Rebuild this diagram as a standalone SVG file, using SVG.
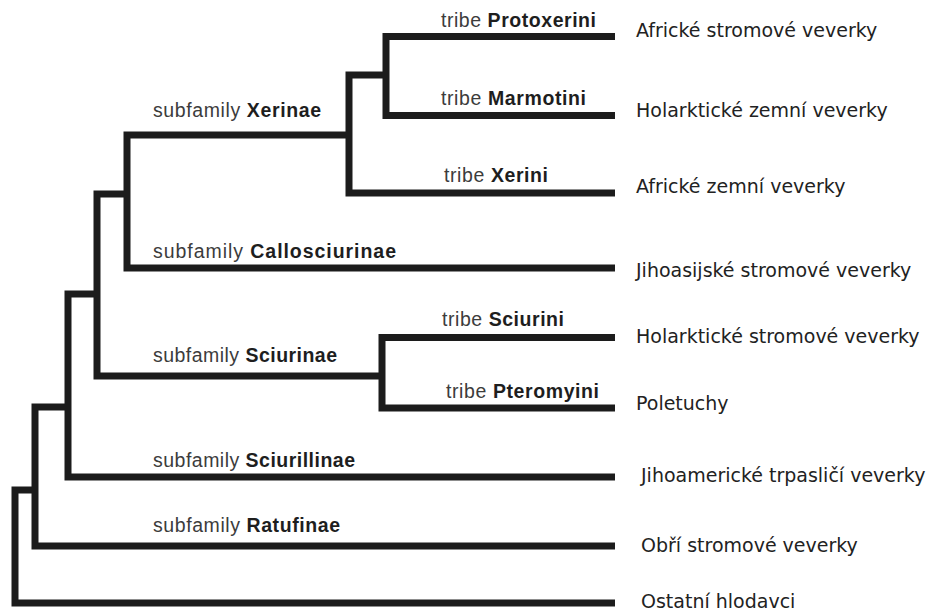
<svg xmlns="http://www.w3.org/2000/svg" width="936" height="611" viewBox="0 0 936 611">
  <style>
    .edge { fill: none; stroke: #1c1c1c; stroke-width: 7; stroke-linejoin: miter; stroke-linecap: butt; }
    .lab { font-family: "Liberation Sans", Arial, sans-serif; font-size: 19.5px; fill: #3c3c3c; }
    .lab .b { font-weight: bold; fill: #1e1e1e; }
    .leaf { font-family: "DejaVu Sans", "Noto Sans", sans-serif; font-size: 19px; fill: #222; }
  </style>
  <rect width="936" height="611" fill="#fff"/>
  <g id="connectors">
    <path class="edge" d="M615,603 H15 V490 H35"/>
    <path class="edge" d="M615,546 H35 V407 H68"/>
    <path class="edge" d="M615,477 H68 V294 H97"/>
    <path class="edge" d="M127,194 H97 V376 H382"/>
    <path class="edge" d="M615,268 H127 V135 H349"/>
    <path class="edge" d="M615,193 H349 V75 H386"/>
    <path class="edge" d="M615,36.5 H386 V115.5 H615"/>
    <path class="edge" d="M615,337.5 H382 V408 H615"/>
  </g>
  <g id="xerinae"><text class="lab" x="153" y="117" textLength="168">subfamily <tspan class="b">Xerinae</tspan></text></g>
  <g id="callosciurinae"><text class="lab" x="153" y="258" textLength="243">subfamily <tspan class="b">Callosciurinae</tspan></text></g>
  <g id="sciurinae"><text class="lab" x="153" y="362" textLength="184">subfamily <tspan class="b">Sciurinae</tspan></text></g>
  <g id="sciurillinae"><text class="lab" x="153" y="467" textLength="202">subfamily <tspan class="b">Sciurillinae</tspan></text></g>
  <g id="ratufinae"><text class="lab" x="153" y="532" textLength="187">subfamily <tspan class="b">Ratufinae</tspan></text></g>
  <g id="protoxerini"><text class="lab" x="441" y="27" textLength="155">tribe <tspan class="b">Protoxerini</tspan></text></g>
  <g id="marmotini"><text class="lab" x="441" y="105" textLength="145">tribe <tspan class="b">Marmotini</tspan></text></g>
  <g id="xerini"><text class="lab" x="444" y="182" textLength="104">tribe <tspan class="b">Xerini</tspan></text></g>
  <g id="sciurini"><text class="lab" x="442" y="326" textLength="122">tribe <tspan class="b">Sciurini</tspan></text></g>
  <g id="pteromyini"><text class="lab" x="446" y="398" textLength="153">tribe <tspan class="b">Pteromyini</tspan></text></g>
  <g id="leaf-1"><text class="leaf" x="636" y="37">Africké stromové veverky</text></g>
  <g id="leaf-2"><text class="leaf" x="636" y="117">Holarktické zemní veverky</text></g>
  <g id="leaf-3"><text class="leaf" x="636" y="193">Africké zemní veverky</text></g>
  <g id="leaf-4"><text class="leaf" x="636" y="277">Jihoasijské stromové veverky</text></g>
  <g id="leaf-5"><text class="leaf" x="636" y="343">Holarktické stromové veverky</text></g>
  <g id="leaf-6"><text class="leaf" x="636" y="410">Poletuchy</text></g>
  <g id="leaf-7"><text class="leaf" x="641" y="482">Jihoamerické trpasličí veverky</text></g>
  <g id="leaf-8"><text class="leaf" x="641" y="552">Obří stromové veverky</text></g>
  <g id="leaf-9"><text class="leaf" x="641" y="608">Ostatní hlodavci</text></g>
</svg>
